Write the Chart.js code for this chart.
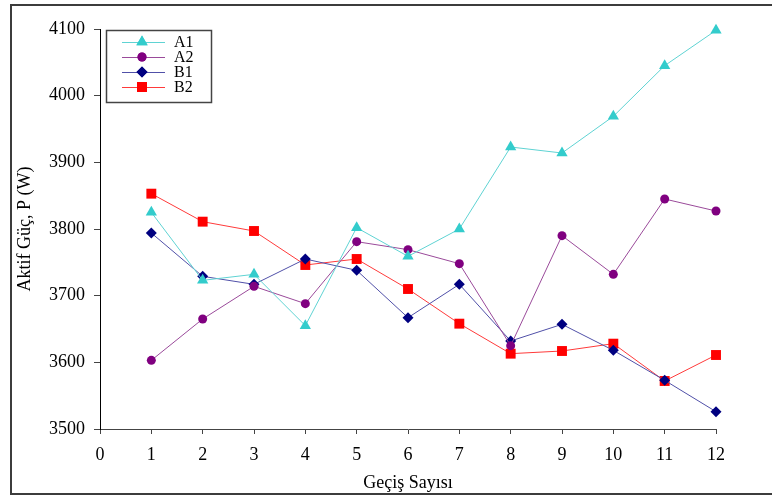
<!DOCTYPE html>
<html>
<head>
<meta charset="utf-8">
<script src="https://cdn.jsdelivr.net/npm/chart.js@4/dist/chart.umd.min.js"></script>
<style>
  html, body { margin:0; padding:0; background:#fff; }
  #wrap { position:relative; width:772px; height:500px; overflow:hidden; }
  #frame { position:absolute; left:10px; top:4px; width:780px; height:491px; border:2px solid #3c3c3c; box-sizing:border-box; }
  #chart { position:absolute; left:0; top:0; }
</style>
</head>
<body>
<div id="wrap">
  <div id="frame"></div>
  <canvas id="chart" width="772" height="500"></canvas>
</div>
<script>
(function(){
  // data
  var passes = [1, 2, 3, 4, 5, 6, 7, 8, 9, 10, 11, 12];
  var a1 = [3825, 3723, 3732, 3655, 3802, 3759, 3800, 3923, 3914, 3969, 4045, 4098];
  var a2 = [3603, 3665, 3714, 3688, 3781, 3769, 3748, 3625, 3790, 3732, 3845, 3827];
  var b1 = [3794, 3729, 3717, 3755, 3738, 3667, 3717, 3632, 3657, 3618, 3573, 3526];
  var b2 = [3853, 3811, 3797, 3746, 3755, 3710, 3658, 3613, 3617, 3628, 3572, 3611];
  var names = ['A1', 'A2', 'B1', 'B2'];
  var xTicks = [0, 1, 2, 3, 4, 5, 6, 7, 8, 9, 10, 11, 12];
  var yTicks = [3500, 3600, 3700, 3800, 3900, 4000, 4100];

  var serif = '"Liberation Serif", "DejaVu Serif", serif';

  function pts(vals){
    var out = [];
    for (var i=0;i<passes.length;i++) out.push({x: passes[i], y: vals[i]});
    return out;
  }

  function ds(label, vals, line, mark, shape, r){
    return {
      label: label, data: pts(vals), clip: false,
      borderColor: line, borderWidth: 1,
      pointBackgroundColor: mark, pointBorderColor: mark, pointBorderWidth: 0,
      pointStyle: shape, pointRadius: r, pointHoverRadius: r,
      tension: 0, fill: false
    };
  }

  var sets = [
    ds(names[0], a1, '#5fd3d3', '#33cccc', 'triangle', 6.5),
    ds(names[1], a2, '#9a4a9a', '#800080', 'circle', 4.5),
    ds(names[2], b1, '#5050a8', '#000080', 'rectRot', 5.5),
    ds(names[3], b2, '#ff3a3a', '#ff0000', 'rect', 7)
  ];

  // legend box inside the plot, like the original
  var boxLegend = {
    id: 'boxLegend',
    afterDraw: function(chart){
      var ctx = chart.ctx;
      var x0 = 106, y0 = 30, w = 105, h = 72;
      ctx.save();
      ctx.fillStyle = '#fff';
      ctx.fillRect(x0, y0, w, h);
      ctx.strokeStyle = '#444';
      ctx.lineWidth = 1.5;
      ctx.strokeRect(x0 + 0.5, y0 + 0.5, w, h);
      ctx.font = '16px ' + serif;
      ctx.textBaseline = 'middle';
      for (var i=0;i<chart.data.datasets.length;i++){
        var d = chart.data.datasets[i];
        var y = 42 + i*15;
        ctx.strokeStyle = d.borderColor;
        ctx.lineWidth = 1;
        ctx.beginPath(); ctx.moveTo(122, y + 0.5); ctx.lineTo(165, y + 0.5); ctx.stroke();
        ctx.fillStyle = d.pointBackgroundColor;
        Chart.helpers.drawPoint(ctx, { pointStyle: d.pointStyle, radius: d.pointRadius, rotation: 0, borderWidth: 0 }, 142, y);
        ctx.fill();
        ctx.fillStyle = '#000';
        ctx.fillText(d.label, 174, y + 1);
      }
      ctx.restore();
    }
  };

  new Chart(document.getElementById('chart'), {
    type: 'line',
    data: { datasets: sets },
    plugins: [boxLegend],
    options: {
      responsive: false, animation: false,
      layout: { padding: { left: 0, top: 29, right: 56, bottom: 0 } },
      plugins: { legend: { display: false }, tooltip: { enabled: false } },
      scales: {
        x: {
          type: 'linear', min: 0, max: 12,
          afterFit: function(s){ s.height = 71; },
          afterBuildTicks: function(s){ s.ticks = xTicks.map(function(v){ return {value: v}; }); },
          grid: { drawOnChartArea: false, drawTicks: true, tickLength: 5, color: '#444' },
          border: { display: true, color: '#444', width: 1 },
          ticks: { color: '#000', padding: 10, font: { family: serif, size: 18 }, maxRotation: 0,
                   callback: function(v){ return String(v); } },
          title: { display: true, text: 'Geçiş Sayısı', color: '#000', font: { family: serif, size: 18 }, padding: { top: 0, bottom: 6 } }
        },
        y: {
          min: 3500, max: 4100,
          afterFit: function(s){ s.width = 100; },
          afterBuildTicks: function(s){ s.ticks = yTicks.map(function(v){ return {value: v}; }); },
          grid: { drawOnChartArea: false, drawTicks: true, tickLength: 6, color: '#444' },
          border: { display: true, color: '#000', width: 1 },
          ticks: { color: '#000', padding: 9, font: { family: serif, size: 18 },
                   callback: function(v){ return String(v); } },
          title: { display: true, text: 'Aktif Güç, P (W)', color: '#000', font: { family: serif, size: 18 }, padding: { top: 14, bottom: 0 } }
        }
      }
    }
  });
})();
</script>
</body>
</html>
